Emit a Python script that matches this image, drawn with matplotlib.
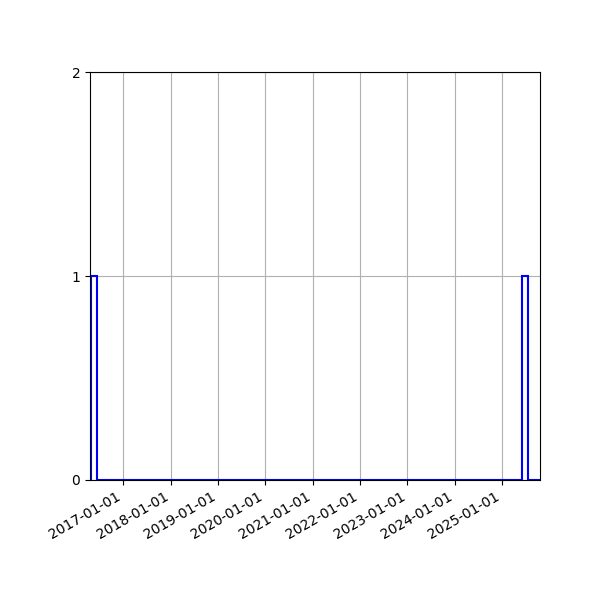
import matplotlib
matplotlib.use("Agg")
import matplotlib.pyplot as plt
import matplotlib.dates as mdates
import numpy as np
import datetime as dt

event_dates = ["2016-05-05", "2025-06-20"]
range_start = "2016-04-27"
range_end = "2025-10-20"
view_start = "2016-04-19"
n_bins = 75
y_ticks = [0, 1, 2]

x = mdates.date2num([dt.datetime.fromisoformat(d) for d in event_dates])
r0 = mdates.date2num(dt.datetime.fromisoformat(range_start))
r1 = mdates.date2num(dt.datetime.fromisoformat(range_end))
v0 = mdates.date2num(dt.datetime.fromisoformat(view_start))

fig = plt.figure(figsize=(6, 6), dpi=100)
ax = fig.add_subplot(111)
ax.hist(x, bins=n_bins, range=(r0, r1), histtype="step", color="blue", linewidth=1.5)
ax.set_xlim(v0, r1)
ax.set_ylim(0, 2)
ax.set_yticks(y_ticks)
ax.xaxis.set_major_locator(mdates.YearLocator())
ax.xaxis.set_major_formatter(mdates.DateFormatter("%Y-%m-%d"))
ax.grid(True)
fig.autofmt_xdate()
fig.subplots_adjust(left=0.15, right=0.9, top=0.88, bottom=0.2)
fig.savefig("out.png", dpi=100)
